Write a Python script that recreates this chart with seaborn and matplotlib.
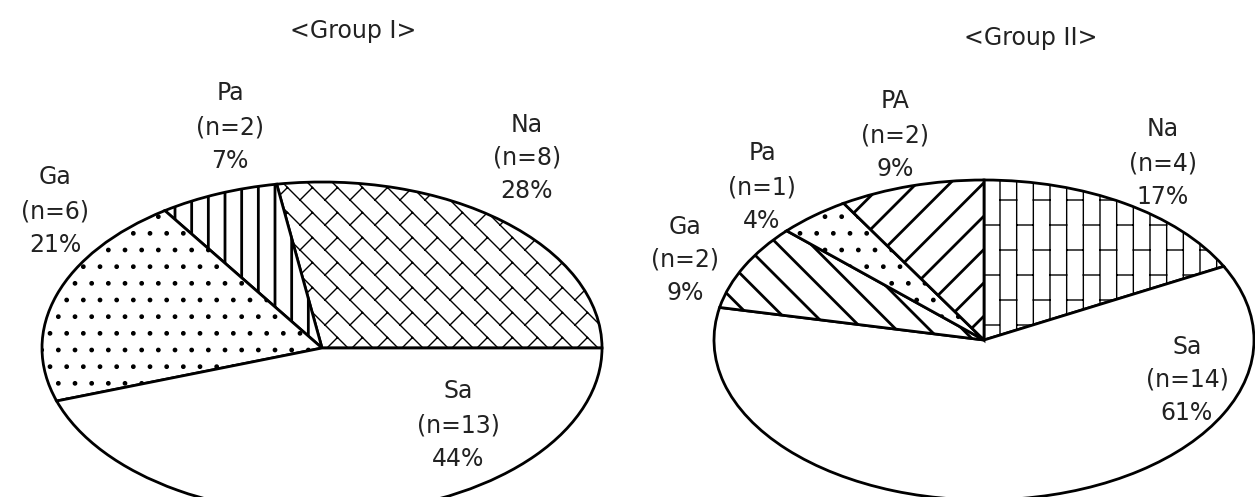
import warnings
import numpy as np
import matplotlib
matplotlib.use("Agg")
import matplotlib.pyplot as plt
import matplotlib.hatch as mhatch
from matplotlib.path import Path
import seaborn as sns

warnings.filterwarnings("ignore")

# Group I (n=29)
g1_labels = ["Na", "Pa", "Ga", "Sa"]
g1_counts = [8, 2, 6, 13]
g1_pcts = [28, 7, 21, 44]

# Group II (n=23)
g2_labels = ["Na", "Sa", "Ga", "Pa", "PA"]
g2_counts = [4, 14, 2, 1, 2]
g2_pcts = [17, 61, 9, 4, 9]

# hatch per slice ('b' / 'B' = custom brick patterns below)
g1_hatches = ["b", "|", ".", ""]
g2_hatches = ["B", "", "\\", ".", "/"]

# label block centres, in pixels from the top-left corner
g1_label_pos = [(527, 158), (230, 127), (55, 211), (458, 425)]
g2_label_pos = [(1163, 163), (1187, 380), (685, 260), (762, 187), (895, 135)]

W, H = 1255, 497


class BrickHatch(mhatch.HatchPatternBase):
    """running-bond bricks: 'B' upright, 'b' tilted 45 degrees"""

    def __init__(self, hatch, density):
        segs = []
        if "B" in hatch:
            n = 6
            for i in range(n + 1):
                segs.append([(i / n, -0.1), (i / n, 1.1)])
                for m in range(-1, 3):
                    y = (i % 2) * 0.25 + m * 0.5
                    segs.append([(i / n, y), ((i + 1) / n, y)])
        if "b" in hatch:
            n = 4
            for k in range(-1, 2 * n + 2):
                u = k / n
                u2 = (k + 1) / n
                segs.append([(u + 1.5, -1.5), (-1.5, u + 1.5)])
                for m in range(-3, 4):
                    v = (k % 2) * 0.25 + m * 0.5
                    segs.append([((u + v) / 2, (u - v) / 2),
                                 ((u2 + v) / 2, (u2 - v) / 2)])
        self.verts = np.array(segs, dtype=float).reshape(-1, 2) if segs else np.empty((0, 2))
        self.num_vertices = len(self.verts)

    def set_vertices_and_codes(self, vertices, codes):
        vertices[:] = self.verts
        codes[0::2] = Path.MOVETO
        codes[1::2] = Path.LINETO


mhatch._hatch_types.append(BrickHatch)

sns.set_theme(style="white")
plt.rcParams["font.family"] = ["DejaVu Sans"]
plt.rcParams["hatch.linewidth"] = 1.0
plt.rcParams["hatch.color"] = "black"

fig = plt.figure(figsize=(12.55, 4.97), dpi=100)


def draw_group(rect, title, title_xy, labels, counts, pcts, hatches, label_pos, start, ccw):
    ax = fig.add_axes(rect)
    wedges, _ = ax.pie(counts, startangle=start, counterclock=ccw,
                       colors=["white"] * len(counts),
                       wedgeprops=dict(edgecolor="black", linewidth=2, clip_on=False))
    for w, h in zip(wedges, hatches):
        w.set_hatch(h)
        if h in ("|", "/", "\\") and hasattr(w, "set_hatch_linewidth"):
            w.set_hatch_linewidth(2.0)
    # stretch the pie into an ellipse
    ax.set_aspect("auto")
    ax.set_xlim(-1, 1)
    ax.set_ylim(-1, 1)
    ax.axis("off")

    for name, n, p, (x, y) in zip(labels, counts, pcts, label_pos):
        fig.text(x / W, 1 - y / H, f"{name}\n(n={n})\n{p}%", ha="center", va="center",
                 fontsize=17, linespacing=1.5, color="#222222")
    fig.text(title_xy[0] / W, 1 - title_xy[1] / H, title, ha="center", va="center",
             fontsize=17, color="#222222")


draw_group([42 / W, -17 / H, 560 / W, 332 / H], "<Group I>", (353, 31),
           g1_labels, g1_counts, g1_pcts, g1_hatches, g1_label_pos, 0, True)
draw_group([714 / W, -3 / H, 540 / W, 320 / H], "<Group II>", (1031, 38),
           g2_labels, g2_counts, g2_pcts, g2_hatches, g2_label_pos, 90, False)

fig.savefig("out.png", dpi=100, facecolor="white")
